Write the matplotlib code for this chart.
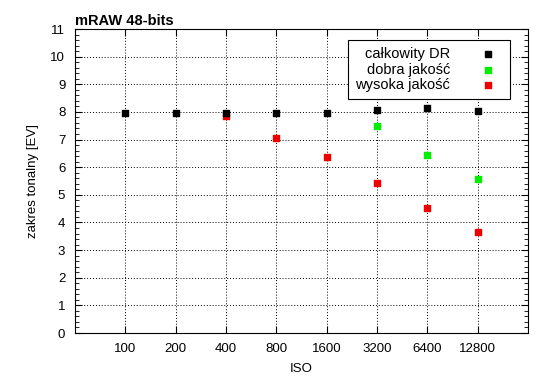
import numpy as np
import matplotlib
matplotlib.use('Agg')
from matplotlib import pyplot as plt
from matplotlib.ticker import MultipleLocator

iso = ['100', '200', '400', '800', '1600', '3200', '6400', '12800']
pos = np.arange(1, 9)

total_dr = [7.95, 7.95, 7.95, 7.95, 7.95, 8.06, 8.13, 8.03]
good_pos = [6, 7, 8]
good_q = [7.49, 6.44, 5.57]
high_pos = [3, 4, 5, 6, 7, 8]
high_q = [7.87, 7.04, 6.37, 5.43, 4.51, 3.66]

plt.rcParams['font.family'] = ['Liberation Sans', 'DejaVu Sans']
plt.rcParams['font.size'] = 9.5

fig = plt.figure(figsize=(5.5, 3.89), dpi=100)
ax = fig.add_axes([75/550, 1-333/389, 453/550, 304/389])

ax.scatter(pos, total_dr, marker='s', s=22, color='black', label='całkowity DR', zorder=5)
ax.scatter(good_pos, good_q, marker='s', s=22, color='#00ee00', label='dobra jakość', zorder=4)
ax.scatter(high_pos, high_q, marker='s', s=22, color='#ee0000', label='wysoka jakość', zorder=3)

ax.set_xlim(0, 9)
ax.set_ylim(0, 11)
ax.set_xticks(pos)
ax.set_xticklabels(iso)
ax.yaxis.set_major_locator(MultipleLocator(1))
ax.yaxis.set_minor_locator(MultipleLocator(0.2))
ax.tick_params(which='both', direction='in', top=True, right=True, pad=7)
ax.tick_params(which='major', length=5)
ax.tick_params(which='minor', length=3)
ax.grid(True, linestyle=(0, (1, 2)), color='black', linewidth=0.7)

ax.set_xlabel('ISO', labelpad=6)
ax.set_ylabel('zakres tonalny [EV]', labelpad=8)
ax.set_title('mRAW 48-bits', loc='left', fontweight='bold', fontsize=10.5, pad=3)

leg = ax.legend(loc='upper right', bbox_to_anchor=(0.96, 0.964), borderaxespad=0,
                markerfirst=False, fancybox=False, framealpha=1, edgecolor='black',
                borderpad=0.5, handletextpad=1.6, labelspacing=0.1, fontsize=10.5)
for t in leg.get_texts():
    t.set_ha('right')
leg.get_frame().set_linewidth(0.8)

fig.savefig('out.png', dpi=100)
